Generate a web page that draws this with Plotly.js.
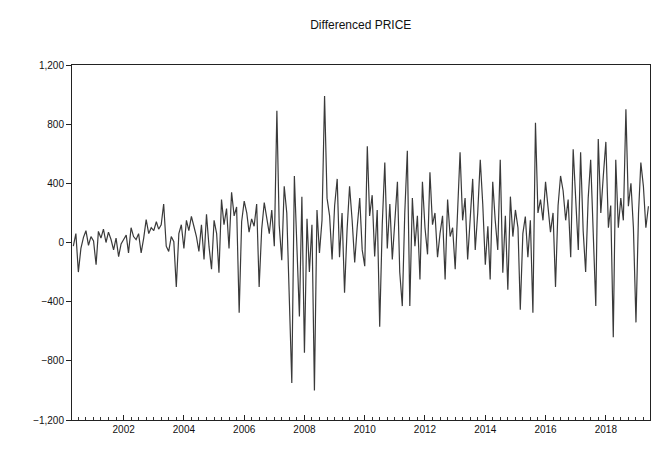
<!DOCTYPE html>
<html>
<head>
<meta charset="utf-8">
<script src="https://cdn.plot.ly/plotly-3.0.1.min.js"></script>
<style>html,body{margin:0;padding:0;background:#fff;}#chart{width:662px;height:450px;}</style>
</head>
<body>
<div id="chart"></div>
<script>
// Monthly differenced price, starting 2000-05
var startYear = 2000;
var startMonth = 5;
var diffPrice = [
 -25, 60, -200, -40, 35, 80, -20, 40, 10, -150,
 75, 30, 90, 0, 70, 20, -50, 30, -95, -10,
 20, 50, -70, 100, 40, 20, 60, -70, 30, 155,
 60, 100, 80, 140, 90, 120, 260, -25, -60, 40,
 5, -300, 60, 120, -40, 150, 80, 176, 110, 40,
 -60, 120, -115, 190, -30, -180, 150, 60, -205, 290,
 120, 230, -40, 340, 180, 240, -475, 140, 280, 200,
 70, 160, 110, 260, -300, 90, 270, 180, 60, 220,
 -25, 890, 120, -120, 380, 200, -300, -950, 450, -100,
 -500, 310, -745, 160, -200, 120, -1000, 220, -70, 150,
 990, 300, 180, -115, 250, 430, -100, 200, -340, 90,
 380, 150, -135, 100, 300, -50, -160, 650, 180, 320,
 -95, 220, -570, 120, 540, -40, 260, -115, 150, 410,
 -200, -430, 200, 620, -430, 300, -25, 180, -250, 410,
 100, -80, 475, 120, 200, -100, 60, 180, -250, 290,
 40, 100, -180, 200, 610, 150, 300, -115, 120, 430,
 -50, 200, 560, 260, -150, 110, -250, 410, 150, -50,
 560, -205, 180, -320, 310, 40, 220, 100, -455, 60,
 176, -100, 150, -475, 810, 200, 290, 150, 410, 220,
 70, 200, -300, 250, 450, 350, 150, 290, -100, 630,
 300, -50, 610, 80, -200, 300, 560, 100, -430, 700,
 200, 450, 680, 100, 250, -640, 560, 100, 300, 150,
 900, 245, 400, 100, -540, 200, 540, 380, 100, 245
];
var yTicks = [-1200, -800, -400, 0, 400, 800, 1200];
var xTickYears = ['2002','2004','2006','2008','2010','2012','2014','2016','2018'];

var dates = [];
for (var i = 0; i < diffPrice.length; i++) {
  var mIdx = startMonth - 1 + i;
  var y = startYear + Math.floor(mIdx / 12);
  var m = (mIdx % 12) + 1;
  dates.push(y + '-' + (m < 10 ? '0' + m : m) + '-01');
}

var trace = {
  x: dates,
  y: diffPrice,
  type: 'scatter',
  mode: 'lines',
  line: {color: '#3a3a3a', width: 1.2},
  hoverinfo: 'x+y'
};

var layout = {
  width: 662,
  height: 450,
  margin: {l: 72, r: 12, t: 65, b: 30},
  paper_bgcolor: '#ffffff',
  plot_bgcolor: '#ffffff',
  showlegend: false,
  title: {
    text: 'Differenced PRICE',
    font: {family: 'Liberation Sans, Arial, sans-serif', size: 12, color: '#111'},
    x: 0.545, xanchor: 'center', y: 0.945, yanchor: 'middle'
  },
  xaxis: {
    type: 'date',
    range: ['2000-04-15', '2019-06-20'],
    tickvals: xTickYears.map(function (s) { return s + '-01-01'; }),
    ticktext: xTickYears,
    ticks: 'inside',
    ticklen: 5,
    tickcolor: '#222',
    showgrid: false,
    zeroline: false,
    showline: true,
    linecolor: '#222',
    linewidth: 1,
    mirror: true,
    tickfont: {family: 'Liberation Sans, Arial, sans-serif', size: 10, color: '#111'},
    minor: {dtick: 'M3', ticks: 'inside', ticklen: 3, tickcolor: '#333', showgrid: false}
  },
  yaxis: {
    range: [-1200, 1200],
    tickvals: yTicks,
    tickformat: ',d',
    ticks: 'outside',
    ticklen: 5,
    tickcolor: '#222',
    showgrid: false,
    zeroline: false,
    showline: true,
    linecolor: '#222',
    linewidth: 1,
    mirror: true,
    tickfont: {family: 'Liberation Sans, Arial, sans-serif', size: 10, color: '#111'}
  }
};

Plotly.newPlot('chart', [trace], layout, {displayModeBar: false, staticPlot: true});
</script>
</body>
</html>
